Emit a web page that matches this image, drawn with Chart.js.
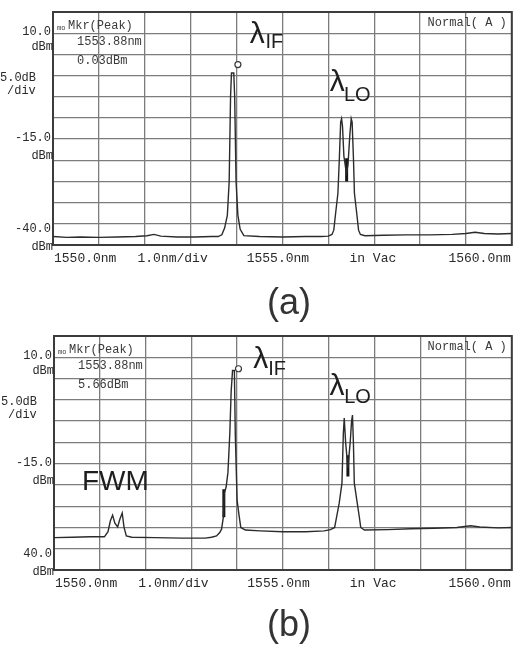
<!DOCTYPE html>
<html>
<head>
<meta charset="utf-8">
<script src="https://cdn.jsdelivr.net/npm/chart.js@4.4.1/dist/chart.umd.min.js"></script>
<style>
html,body{margin:0;padding:0;background:#fff;width:517px;height:646px;overflow:hidden;position:relative}
canvas{position:absolute;left:0}
#chartA{top:0}
#chartB{top:325px}
.cap{position:absolute;left:189px;width:200px;text-align:center;font-family:"Liberation Sans",Arial,sans-serif;font-size:36px;line-height:36px;color:#333}
</style>
</head>
<body>
<canvas id="chartA" width="517" height="320"></canvas>
<canvas id="chartB" width="517" height="321"></canvas>
<div class="cap" style="top:284px">(a)</div>
<div class="cap" style="top:606px">(b)</div>
<script>
// ---------- data ----------
const wavelengthA = [1550.00,1550.30,1550.60,1551.00,1551.40,1551.80,1552.05,1552.20,1552.35,1552.70,1553.10,1553.45,1553.60,1553.68,1553.74,1553.80,1553.84,1553.87,1553.89,1553.94,1553.96,1553.99,1554.03,1554.08,1554.16,1554.50,1555.00,1555.50,1555.85,1556.00,1556.08,1556.12,1556.16,1556.21,1556.24,1556.27,1556.29,1556.31,1556.34,1556.38,1556.40,1556.43,1556.47,1556.50,1556.52,1556.55,1556.57,1556.62,1556.66,1556.70,1556.80,1557.20,1557.70,1558.20,1558.70,1559.00,1559.20,1559.40,1559.70,1560.00];
const powerA = [-38.0,-38.2,-38.1,-38.2,-38.1,-38.0,-37.8,-37.5,-37.9,-38.1,-38.1,-38.0,-38.0,-37.6,-36.0,-33.0,-25.0,-5.0,0.6,0.6,-5.0,-25.0,-33.0,-36.3,-37.8,-38.0,-38.1,-38.0,-38.0,-37.9,-37.5,-36.5,-32.5,-27.8,-20.0,-11.0,-10.2,-12.0,-19.0,-22.0,-23.0,-21.0,-14.0,-10.2,-11.0,-20.0,-27.8,-32.5,-36.5,-37.5,-37.8,-37.7,-37.6,-37.6,-37.5,-37.3,-37.0,-37.3,-37.4,-37.3];

const wavelengthB = [1550.00,1550.40,1550.80,1551.10,1551.18,1551.23,1551.28,1551.33,1551.39,1551.44,1551.49,1551.53,1551.58,1551.70,1552.20,1552.80,1553.30,1553.44,1553.55,1553.62,1553.66,1553.70,1553.72,1553.76,1553.80,1553.84,1553.87,1553.90,1553.94,1553.96,1553.98,1554.00,1554.04,1554.08,1554.18,1554.50,1555.00,1555.50,1555.90,1556.04,1556.13,1556.16,1556.23,1556.29,1556.32,1556.34,1556.37,1556.42,1556.47,1556.50,1556.52,1556.54,1556.56,1556.62,1556.67,1556.70,1556.78,1557.30,1557.80,1558.30,1558.80,1559.10,1559.30,1559.70,1560.00];
const powerB = [-32.4,-32.3,-32.2,-32.2,-31.0,-28.5,-27.1,-29.0,-29.9,-28.0,-26.6,-30.0,-32.0,-32.3,-32.4,-32.5,-32.5,-32.3,-32.0,-31.2,-30.4,-27.5,-22.0,-20.5,-17.0,-8.0,2.0,6.9,6.9,-8.0,-16.0,-23.6,-27.0,-30.0,-30.6,-30.8,-31.0,-31.0,-30.8,-30.5,-30.0,-28.3,-24.3,-19.6,-8.0,-4.3,-10.0,-16.0,-10.0,-5.0,-3.6,-10.0,-19.6,-24.0,-27.6,-30.0,-30.6,-30.5,-30.3,-30.2,-30.0,-29.6,-29.9,-30.1,-30.0];

// trace-marker segments (dark ticks on the trace)
const markWavelengthA = [1556.40,1556.40];
const markPowerA = [-19.5,-25.0];
const markWavelengthB = [1553.71,1553.71,1555.00,1556.42,1556.42];
const markPowerB = [-21.0,-27.6,null,-13.0,-18.0];

// peak-marker readouts
const peakA = {wavelength:1554.03, power:2.6, textWl:'1553.88nm', textPw:'0.03dBm'};
const peakB = {wavelength:1554.03, power:7.3, textWl:'1553.88nm', textPw:'5.66dBm'};

// axis labels
const yTickValues = [10, 0, -15, -40];
const yTickNumbersA = ['10.0', '5.0dB', '-15.0', '-40.0'];
const yTickNumbersB = ['10.0', '5.0dB', '-15.0', '40.0'];
const yTickUnits = ['dBm', '/div', 'dBm', 'dBm'];
const xLabelTexts = ['1550.0nm', '1.0nm/div', '1555.0nm', 'in Vac', '1560.0nm'];

// ---------- drawing ----------
const yLayout = [
  {nx:-2, na:'right', ny:-1, ux:0, ua:'right', uy:14},
  {nx:-53, na:'left', ny:2, ux:-46, ua:'left', uy:15},
  {nx:-2, na:'right', ny:-1, ux:0, ua:'right', uy:17},
  {nx:-2, na:'right', ny:-16, ux:0, ua:'right', uy:2}
];
const xLayout = [
  {v:1550.0, a:'left'}, {v:1551.82, a:'left'}, {v:1554.2, a:'left'}, {v:1556.44, a:'left'}, {v:1560.0, a:'right'}
];

function osaPlugin(cfg){
  return {
    id:'osa_'+cfg.key,
    beforeDatasetsDraw(chart){
      const {ctx, chartArea:a} = chart;
      ctx.save();
      ctx.strokeStyle = '#3c3c3c';
      ctx.lineWidth = 2;
      ctx.strokeRect(a.left, a.top, a.right - a.left, a.bottom - a.top);
      ctx.restore();
    },
    afterDraw(chart){
      const {ctx, chartArea:a, scales:{x, y}} = chart;
      ctx.save();
      ctx.fillStyle = '#2a2a2a';
      ctx.font = '12px "Liberation Mono", monospace';
      ctx.textBaseline = 'middle';
      yTickValues.forEach((v, i) => {
        const py = y.getPixelForValue(v);
        const L = yLayout[i];
        ctx.textAlign = L.na;
        ctx.fillText(cfg.yNumbers[i], a.left + L.nx, py + L.ny);
        ctx.textAlign = L.ua;
        ctx.fillText(yTickUnits[i], a.left + L.ux, py + L.uy);
      });
      ctx.font = '13px "Liberation Mono", monospace';
      xLabelTexts.forEach((t, i) => {
        const L = xLayout[i];
        ctx.textAlign = L.a;
        ctx.fillText(t, x.getPixelForValue(L.v) + (L.a === 'left' ? 1 : -1), a.bottom + 14);
      });
      // marker readout + mode
      ctx.fillStyle = '#3a3a3a';
      ctx.font = '12px "Liberation Mono", monospace';
      ctx.textAlign = 'left';
      ctx.font = '7px "Liberation Mono", monospace';
      ctx.fillText('mo', a.left + 4, a.top + 16);
      ctx.font = '12px "Liberation Mono", monospace';
      ctx.fillText('Mkr(Peak)', a.left + 15, a.top + 14);
      ctx.fillText(cfg.peak.textWl, a.left + 24, a.top + 30);
      ctx.fillText(cfg.peak.textPw, a.left + 24, a.top + 49);
      ctx.textAlign = 'right';
      ctx.fillText('Normal( A )', a.right - 5, a.top + 11);
      // annotations
      ctx.fillStyle = '#1e1e1e';
      ctx.textBaseline = 'alphabetic';
      ctx.textAlign = 'left';
      cfg.notes.forEach(n => {
        ctx.font = n.size + 'px "Liberation Sans", Arial, sans-serif';
        ctx.fillText(n.text, x.getPixelForValue(n.x), y.getPixelForValue(n.y));
      });
      ctx.restore();
    }
  };
}

function buildChart(id, wl, pw, mwl, mpw, cfg){
  const gridStyle = {color:'#7c7c7c', lineWidth:1.3, drawTicks:false};
  return new Chart(document.getElementById(id), {
    type:'line',
    data:{datasets:[
      {data: wl.map((w, i) => ({x:w, y:pw[i]})), borderColor:'#2b2b2b', borderWidth:1.4, pointRadius:0, tension:0},
      {data: mwl.map((w, i) => ({x:w, y:mpw[i]})), borderColor:'#151515', borderWidth:3, pointRadius:0, spanGaps:false},
      {data: [{x:cfg.peak.wavelength, y:cfg.peak.power}], showLine:false, pointRadius:3, pointBorderColor:'#3a3a3a', pointBackgroundColor:'#fff', pointBorderWidth:1.2}
    ]},
    options:{
      responsive:false, animation:false, events:[],
      layout:{padding:cfg.pad},
      plugins:{legend:{display:false}, tooltip:{enabled:false}},
      scales:{
        x:{type:'linear', min:1550, max:1560, ticks:{display:false, stepSize:1}, grid:gridStyle, border:{display:false}},
        y:{type:'linear', min:-40, max:15, ticks:{display:false, stepSize:5}, grid:gridStyle, border:{display:false}}
      }
    },
    plugins:[osaPlugin(cfg)]
  });
}

buildChart('chartA', wavelengthA, powerA, markWavelengthA, markPowerA, {
  key:'a', pad:{left:53, right:1, top:12, bottom:75}, yNumbers:yTickNumbersA, peak:peakA,
  notes:[
    {text:'λ', x:1554.29, y:7.6, size:30},
    {text:'IF', x:1554.63, y:6.4, size:20},
    {text:'λ', x:1556.03, y:-3.6, size:30},
    {text:'LO', x:1556.34, y:-6.0, size:20}
  ]
});
buildChart('chartB', wavelengthB, powerB, markWavelengthB, markPowerB, {
  key:'b', pad:{left:54, right:1, top:11, bottom:76}, yNumbers:yTickNumbersB, peak:peakB,
  notes:[
    {text:'λ', x:1554.35, y:7.4, size:30},
    {text:'IF', x:1554.68, y:5.8, size:20},
    {text:'λ', x:1556.02, y:1.1, size:30},
    {text:'LO', x:1556.34, y:-0.8, size:20},
    {text:'FWM', x:1550.61, y:-21.2, size:28}
  ]
});
</script>
</body>
</html>
